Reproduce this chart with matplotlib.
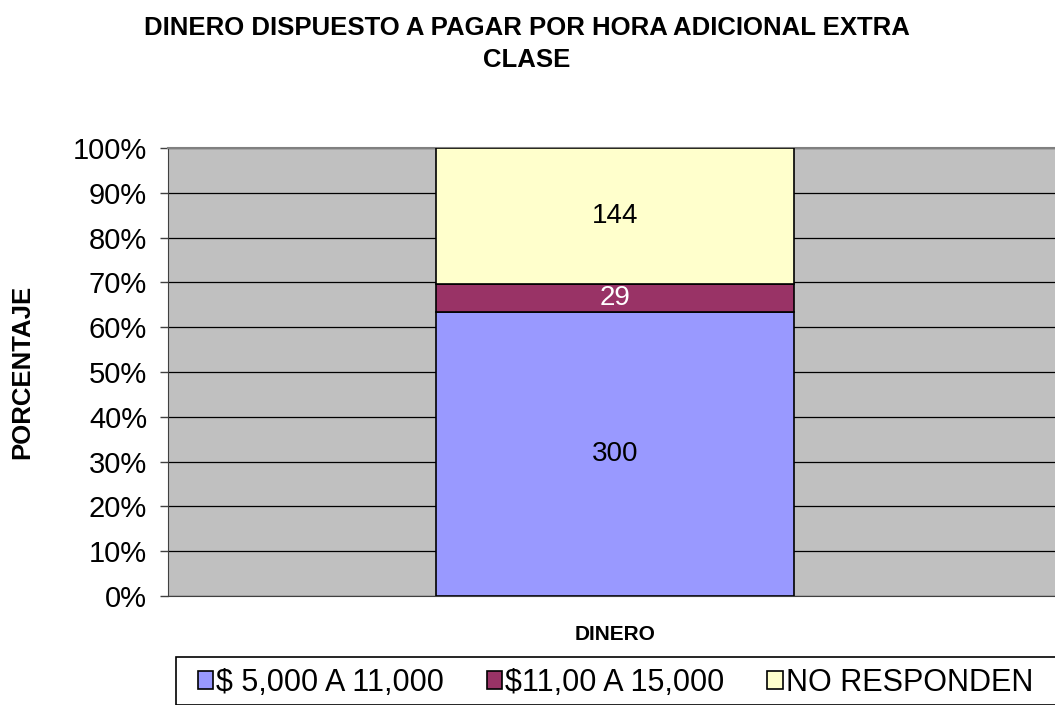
import matplotlib
matplotlib.use('Agg')
import matplotlib.pyplot as plt
from matplotlib.patches import Rectangle

plt.rcParams['font.family'] = ['Liberation Sans', 'DejaVu Sans']

categories = ['DINERO']
series = ['$ 5,000 A 11,000', '$11,00 A 15,000', 'NO RESPONDEN']
counts = [300, 29, 144]
colors = ['#9999FF', '#993366', '#FFFFCC']
label_colors = ['black', 'white', 'black']

total = sum(counts)
pct = [c / total * 100 for c in counts]

fig = plt.figure(figsize=(10.55, 7.05), dpi=100)
ax = fig.add_axes([168/1055, 109/705, 894/1055, 448/705])
ax.set_facecolor('#C0C0C0')

bottom = 0
for name, c, p, col, lc in zip(series, counts, pct, colors, label_colors):
    ax.bar(0, p, width=0.4, bottom=bottom, color=col, edgecolor='black',
           linewidth=1.2, label=name, zorder=3)
    ax.text(0, bottom + p / 2, str(c), ha='center', va='center',
            fontsize=20, color=lc, zorder=4)
    bottom += p

ax.set_xlim(-0.5, 0.5)
ax.set_ylim(0, 100)
ax.set_yticks(range(0, 101, 10))
ax.set_yticklabels([f'{v}%' for v in range(0, 101, 10)], fontsize=21)
ax.set_xticks([])
ax.yaxis.grid(True, color='black', linewidth=0.9, zorder=0)
ax.tick_params(axis='y', length=6, width=1, color='#404040', pad=9)
ax.spines['right'].set_visible(False)
ax.spines['left'].set_color('#404040')
ax.spines['bottom'].set_color('#404040')
ax.spines['top'].set_color('#808080')
ax.spines['top'].set_linewidth(1.5)

fig.text(527/1055, 1 - 28/705, 'DINERO DISPUESTO A PAGAR POR HORA ADICIONAL EXTRA',
         ha='center', va='center', fontsize=18.5, fontweight='bold')
fig.text(527/1055, 1 - 60/705, 'CLASE', ha='center', va='center',
         fontsize=18.5, fontweight='bold')
fig.text(22/1055, 1 - 372/705, 'PORCENTAJE', ha='center', va='center',
         rotation=90, fontsize=18.5, fontweight='bold')
fig.text(615/1055, 1 - 635/705, categories[0], ha='center', va='center',
         fontsize=15, fontweight='bold')

# legend box
fig.patches.append(Rectangle((176/1055, 0), 900/1055, 48/705, transform=fig.transFigure,
                             facecolor='white', edgecolor='black', linewidth=1.2))

handles, labels = ax.get_legend_handles_labels()
leg = fig.legend(handles, labels, loc='center left', bbox_to_anchor=(198/1055, 1 - 683/705),
                 ncol=3, fontsize=22, frameon=False,
                 handlelength=0.5, handleheight=0.5, handletextpad=0.1,
                 columnspacing=1.4, borderpad=0, borderaxespad=0)

fig.savefig('out.png', dpi=100)
